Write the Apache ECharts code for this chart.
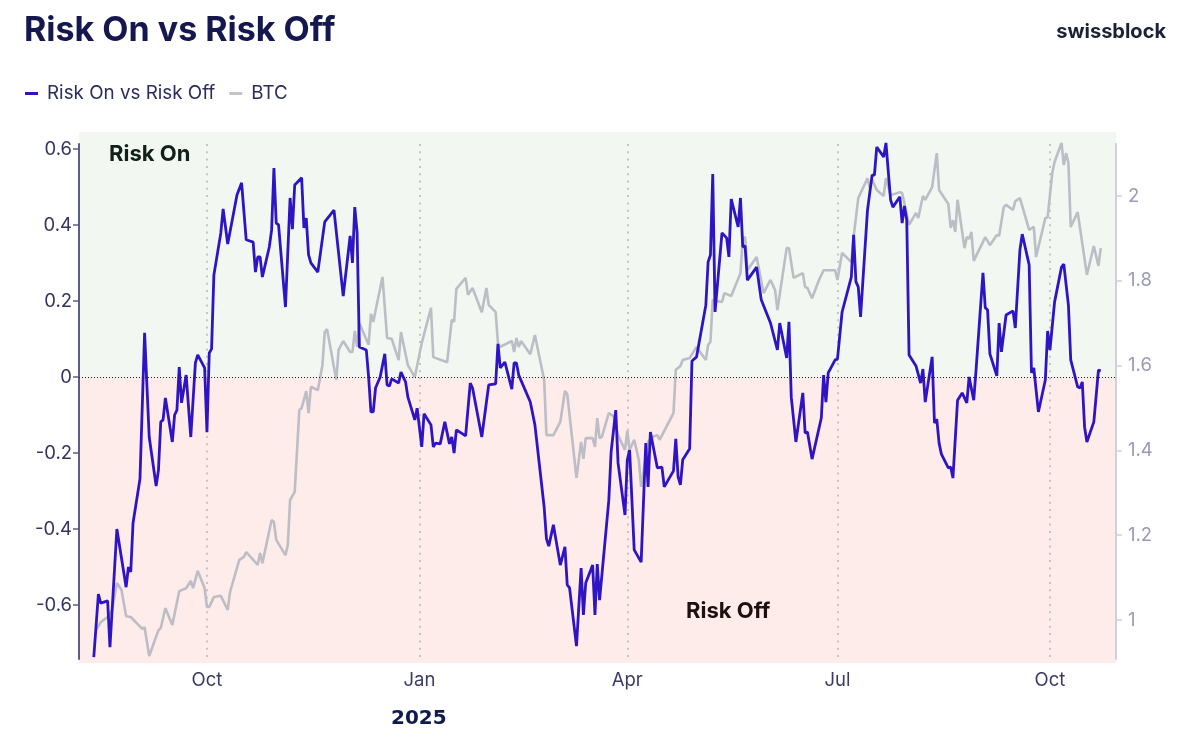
<!DOCTYPE html>
<html>
<head>
<meta charset="utf-8">
<title>Risk On vs Risk Off</title>
<script src="https://cdn.jsdelivr.net/npm/echarts@6/dist/echarts.min.js"></script>
<style>
html, body { margin: 0; padding: 0; background: #fff; }
#main { width: 1200px; height: 741px; }
</style>
</head>
<body>
<div id="main"></div>
<script>
'use strict';

// days are counted from this date
var startDate = Date.UTC(2024, 7, 13);
var dayMs = 86400000;

var leftTicks = [-0.6, -0.4, -0.2, 0, 0.2, 0.4, 0.6];
var rightTicks = [1, 1.2, 1.4, 1.6, 1.8, 2];
var quarterDates = ['2024-10-01', '2025-01-01', '2025-04-01', '2025-07-01', '2025-10-01'];
var quarterNames = ['Oct', 'Jan', 'Apr', 'Jul', 'Oct'];

var riskDays = [0,2,3,6,7,10,14,15,16,17,20,22,24,27,28,29,30,31,34,35,36,37,38,40,42,44,45,48,49,50,51,52,55,56,58,62,64,66,69,70,71,72,73,76,77,78,79,80,83,85,86,87,90,91,92,93,94,97,100,104,108,111,112,113,114,115,118,119,120,121,122,124,126,127,128,129,132,133,135,136,139,140,142,143,146,147,148,150,152,154,155,156,157,161,163,164,168,171,174,175,176,178,181,182,183,184,189,191,195,196,197,199,202,204,205,206,209,211,212,213,216,217,218,219,223,224,226,227,230,231,232,234,237,239,240,241,244,246,247,251,252,253,254,255,258,259,261,265,266,267,268,269,272,274,275,276,279,280,281,282,283,287,289,293,296,297,300,301,302,304,307,308,309,311,315,316,317,318,321,322,324,328,329,330,331,332,335,337,338,339,342,343,345,346,349,350,351,352,353,356,358,359,360,363,364,365,366,367,370,371,372,374,376,378,379,381,382,385,386,387,388,391,392,393,395,398,399,401,402,405,406,407,409,412,413,414,416,419,420,422,423,426,427,428,429,430,433,435,436];
var riskValues = [-0.737,-0.571,-0.595,-0.589,-0.711,-0.4,-0.553,-0.5,-0.513,-0.384,-0.268,0.116,-0.158,-0.287,-0.245,-0.118,-0.113,-0.055,-0.171,-0.1,-0.087,0.026,-0.068,0.005,-0.158,0.037,0.058,0.024,-0.145,0.063,0.074,0.268,0.379,0.442,0.35,0.479,0.511,0.361,0.355,0.276,0.316,0.316,0.263,0.342,0.387,0.55,0.405,0.4,0.184,0.471,0.389,0.505,0.524,0.392,0.418,0.321,0.3,0.276,0.408,0.439,0.213,0.371,0.3,0.447,0.382,0.079,0.071,0,-0.092,-0.092,-0.029,0,0.061,-0.021,-0.024,-0.005,-0.016,0.013,-0.013,-0.053,-0.113,-0.082,-0.184,-0.097,-0.126,-0.184,-0.174,-0.176,-0.118,-0.176,-0.158,-0.2,-0.139,-0.155,-0.016,-0.029,-0.158,-0.021,-0.018,0.087,0.024,0.039,-0.032,0.037,0.037,0.005,-0.066,-0.126,-0.342,-0.426,-0.445,-0.389,-0.495,-0.447,-0.547,-0.555,-0.708,-0.503,-0.626,-0.542,-0.495,-0.626,-0.492,-0.587,-0.324,-0.197,-0.087,-0.226,-0.363,-0.218,-0.192,-0.455,-0.487,-0.174,-0.289,-0.145,-0.239,-0.237,-0.289,-0.247,-0.163,-0.263,-0.284,-0.218,-0.189,0.042,0.053,0.189,0.303,0.321,0.534,0.171,0.379,0.366,0.316,0.468,0.395,0.471,0.342,0.345,0.255,0.289,0.203,0.142,0.071,0.142,0.05,0.145,-0.053,-0.171,-0.042,-0.147,-0.145,-0.216,-0.108,0.005,-0.066,0.011,0.045,0.047,0.171,0.263,0.374,0.25,0.237,0.158,0.439,0.531,0.531,0.605,0.579,0.616,0.466,0.447,0.474,0.405,0.45,0.413,0.058,0.029,-0.016,0.021,-0.066,0.053,-0.121,-0.111,-0.174,-0.203,-0.239,-0.237,-0.266,-0.061,-0.042,-0.068,0,-0.061,0.018,0.274,0.182,0.176,0.061,0.003,0.142,0.066,0.163,0.174,0.129,0.334,0.376,0.295,0.011,0.024,-0.092,-0.008,0.121,0.071,0.197,0.289,0.297,0.189,0.045,-0.026,-0.029,-0.013,-0.132,-0.171,-0.118,0.018,0.016];

var btcDays = [1,3,6,8,10,12,14,16,21,22,24,28,29,31,34,37,40,42,43,45,48,49,50,52,55,58,59,63,65,66,71,72,73,77,78,79,83,84,85,87,89,90,92,93,94,97,99,100,101,105,106,108,111,112,113,114,115,119,120,121,125,127,129,132,133,136,139,142,146,147,153,155,156,157,161,162,164,168,170,171,174,175,176,181,182,183,184,185,189,191,195,196,199,202,204,205,209,211,212,213,216,217,218,219,220,223,225,227,230,231,232,234,236,237,240,242,244,245,251,252,254,255,258,261,265,266,267,268,270,272,273,276,280,281,282,283,287,290,293,295,296,300,301,303,307,308,309,311,314,316,321,322,324,328,329,331,335,336,337,339,342,343,345,349,350,353,356,357,359,360,363,365,366,370,371,372,373,374,377,378,379,380,381,386,388,391,392,394,395,398,399,401,405,407,408,412,413,415,416,419,420,421,422,423,426,430,433,435,436];
var btcValues = [0.976,0.995,1.007,1.024,1.087,1.071,1.009,1.007,0.979,0.983,0.915,0.976,0.981,1.028,0.988,1.068,1.075,1.092,1.075,1.116,1.075,1.031,1.031,1.054,1.057,1.024,1.066,1.142,1.149,1.16,1.13,1.158,1.134,1.236,1.231,1.189,1.153,1.177,1.283,1.302,1.495,1.5,1.54,1.488,1.55,1.542,1.601,1.679,1.686,1.566,1.637,1.658,1.632,1.632,1.682,1.644,1.7,1.649,1.722,1.703,1.809,1.665,1.663,1.613,1.679,1.601,1.573,1.653,1.736,1.62,1.608,1.708,1.703,1.781,1.807,1.767,1.783,1.726,1.783,1.743,1.726,1.653,1.644,1.658,1.632,1.665,1.644,1.658,1.627,1.672,1.566,1.436,1.436,1.467,1.54,1.533,1.335,1.42,1.38,1.429,1.429,1.408,1.476,1.429,1.432,1.488,1.481,1.436,1.401,1.446,1.401,1.425,1.377,1.314,1.42,1.432,1.436,1.425,1.488,1.59,1.599,1.613,1.618,1.644,1.613,1.649,1.656,1.755,1.752,1.75,1.771,1.764,1.818,1.901,1.903,1.825,1.856,1.771,1.802,1.778,1.731,1.877,1.877,1.807,1.818,1.785,1.783,1.759,1.802,1.825,1.825,1.802,1.866,1.844,1.903,1.995,2.042,2.019,2.038,2.014,2,2.042,2.002,2.009,2.007,1.932,1.96,1.948,2,1.991,2.021,2.101,2.014,1.981,1.925,1.943,1.915,1.991,1.877,1.903,1.899,1.915,1.847,1.903,1.884,1.908,1.906,1.974,1.979,1.967,1.988,1.995,1.92,1.927,1.856,1.948,1.95,2.054,2.08,2.125,2.073,2.101,2.078,1.927,1.962,1.814,1.882,1.835,1.877];

function toSeries(days, values) {
    return days.map(function(d, i) {
        return [startDate + d * dayMs, values[i]];
    });
}

var myChart = echarts.init(document.getElementById('main'), null, { renderer: 'canvas' });

var quarterTimes = quarterDates.map(function(s) {
    return new Date(s + 'T00:00:00Z').getTime();
});

var uiFont = 'Inter';

var option = {
    animation: false,
    backgroundColor: '#ffffff',
    title: {
        text: 'Risk On vs Risk Off',
        left: 19,
        top: 9,
        textStyle: { fontFamily: uiFont, fontWeight: 700, fontSize: 34, color: '#15174f' }
    },
    legend: {
        left: 20,
        top: 79,
        data: ['Risk On vs Risk Off', 'BTC'],
        icon: 'rect',
        itemWidth: 13,
        itemHeight: 3,
        itemGap: 14,
        textStyle: { fontFamily: uiFont, fontSize: 18.8, color: '#2b2d5e', padding: [0, 0, 0, 4] }
    },
    grid: { left: 79, right: 84, top: 144, bottom: 82 },
    // plain value axis holding timestamps, so the quarter ticks can be set directly
    xAxis: {
        type: 'value',
        min: startDate - 6.4 * dayMs,
        max: startDate + 442.6 * dayMs,
        axisLine: { show: false },
        axisTick: { show: false, customValues: quarterTimes },
        splitLine: {
            show: true,
            lineStyle: { color: '#c9c3c3', type: [2, 5.3], width: 2 }
        },
        axisLabel: {
            customValues: quarterTimes,
            formatter: function(value) {
                return quarterNames[quarterTimes.indexOf(value)];
            },
            fontFamily: uiFont,
            fontSize: 18.5,
            color: '#3a3b66',
            margin: 12
        }
    },
    yAxis: [{
        type: 'value',
        min: -0.742,
        max: 0.613,
        axisLine: { show: true, lineStyle: { color: '#5c5c88', width: 2 } },
        axisTick: { show: true, length: 6, customValues: leftTicks, lineStyle: { color: '#5c5c88', width: 1.5 } },
        splitLine: { show: false },
        axisLabel: {
            customValues: leftTicks,
            fontFamily: uiFont,
            fontSize: 18.5,
            color: '#34355f',
            margin: 7,
            padding: [3, 0, 0, 0]
        }
    }, {
        type: 'value',
        position: 'right',
        min: 0.908,
        max: 2.1226,
        axisLine: { show: true, lineStyle: { color: '#cfcfde', width: 2 } },
        axisTick: { show: true, length: 6, customValues: rightTicks, lineStyle: { color: '#cfcfde', width: 1.5 } },
        splitLine: { show: false },
        axisLabel: {
            customValues: rightTicks,
            fontFamily: uiFont,
            fontSize: 18.5,
            color: '#9a9ab8',
            margin: 12,
            padding: [2, 0, 0, 0]
        }
    }],
    graphic: [
        // the coloured bands run a bit past the axes, above and below
        { type: 'rect', z: -1, shape: { x: 79, y: 132, width: 1037, height: 12 }, style: { fill: '#f2f7f1' } },
        { type: 'rect', z: -1, shape: { x: 79, y: 659, width: 1037, height: 4 }, style: { fill: '#feecea' } },
        { type: 'text', z: 10, left: 109, top: 143, style: { text: 'Risk On', fontFamily: uiFont, fontWeight: 700, fontSize: 22, fill: '#10201a' } },
        { type: 'text', z: 10, left: 686, top: 600, style: { text: 'Risk Off', fontFamily: uiFont, fontWeight: 700, fontSize: 22, fill: '#1d1010' } },
        { type: 'text', right: 34, top: 22, style: { text: 'swissblock', fontFamily: uiFont, fontWeight: 700, fontSize: 20, fill: '#1b2136' } },
        { type: 'text', left: 391, top: 709, style: { text: '2025', fontFamily: 'DejaVu Sans', fontWeight: 700, fontSize: 20, fill: '#0f1a52' } }
    ],
    series: [{
        name: 'bands',
        type: 'line',
        z: -1,
        yAxisIndex: 0,
        data: [],
        silent: true,
        markArea: {
            silent: true,
            z: -1,
            data: [
                [{ yAxis: 0.613, itemStyle: { color: '#f2f7f1' } }, { yAxis: 0 }],
                [{ yAxis: 0, itemStyle: { color: '#feecea' } }, { yAxis: -0.742 }]
            ]
        }
    }, {
        name: 'BTC',
        type: 'line',
        z: 3,
        yAxisIndex: 1,
        clip: false,
        showSymbol: false,
        data: toSeries(btcDays, btcValues),
        itemStyle: { color: '#c3c3cb' },
        lineStyle: { color: '#bdbdc5', width: 2.6 }
    }, {
        name: 'Risk On vs Risk Off',
        type: 'line',
        z: 4,
        yAxisIndex: 0,
        clip: false,
        showSymbol: false,
        data: toSeries(riskDays, riskValues),
        itemStyle: { color: '#2f14c4' },
        lineStyle: { color: '#2f14c4', width: 2.8 },
        markLine: {
            silent: true,
            symbol: 'none',
            label: { show: false },
            lineStyle: { color: '#222222', type: [1, 2], width: 1 },
            data: [{ yAxis: 0 }]
        }
    }]
};

myChart.setOption(option);
</script>
</body>
</html>
